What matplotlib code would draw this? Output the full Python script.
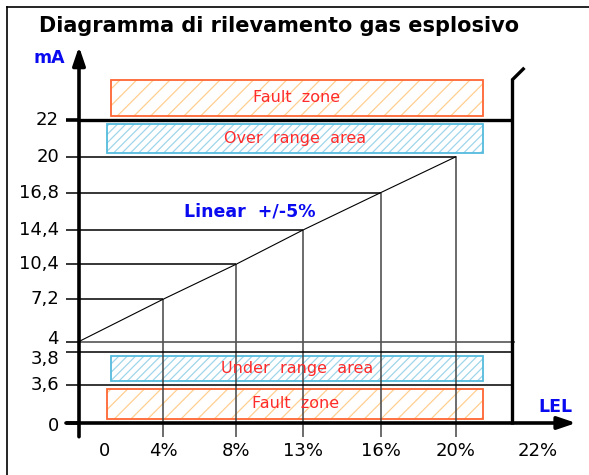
import numpy as np
import matplotlib
matplotlib.use('Agg')
import matplotlib.pyplot as plt
from matplotlib.patches import Rectangle
from matplotlib.lines import Line2D

# dati del diagramma
ma_ticks = [0, 3.6, 3.8, 4, 7.2, 10.4, 14.4, 16.8, 20, 22]
ma_labels = ['0', '3,6', '3,8', '4', '7,2', '10,4', '14,4', '16,8', '20', '22']
lel_ticks = [0, 4, 8, 13, 16, 20, 22]
lel_labels = ['0', '4%', '8%', '13%', '16%', '20%', '22%']
cal_lel = [0, 4, 8, 13, 16, 20]
cal_ma = [4, 7.2, 10.4, 14.4, 16.8, 20]
zone_names = ['Fault  zone', 'Over  range  area', 'Under  range  area', 'Fault  zone']
zone_lo = [22, 20, 3.6, 0]
zone_hi = [24.4, 22, 3.8, 3.6]
zone_lel = [(1.5, 20.95), (1.35, 20.95), (1.5, 20.95), (1.35, 20.95)]

# layout: posizione (pixel) di ogni livello, la scala non e' lineare
ma_pos = [52, 90, 123.5, 133.5, 175.7, 210.7, 245, 282.5, 318.3, 355]
lel_pos = [79, 163, 236, 303, 381, 456, 512.5]
zone_edge = ['#FF6633', '#55BBDD', '#55BBDD', '#FF6633']
zone_hatch = ['#FFCF90', '#9FD6EA', '#9FD6EA', '#FFCF90']
zone_pattern = ['//', '////', '////', '//']
W, H = 589, 475


def piecewise(vals, pos):
    vals = np.asarray(vals, float)
    pos = np.asarray(pos, float)

    def make(a, b):
        s0 = (b[1] - b[0]) / (a[1] - a[0])
        s1 = (b[-1] - b[-2]) / (a[-1] - a[-2])

        def f(v):
            v = np.asarray(v, float)
            out = np.interp(v, a, b)
            out = np.where(v < a[0], b[0] + (v - a[0]) * s0, out)
            out = np.where(v > a[-1], b[-1] + (v - a[-1]) * s1, out)
            return out
        return f
    return make(vals, pos), make(pos, vals)


fx, fx_inv = piecewise(lel_ticks, lel_pos)
fy, fy_inv = piecewise(ma_ticks, ma_pos)

fig = plt.figure(figsize=(W / 100, H / 100), dpi=100)
ax = fig.add_axes([0, 0, 1, 1])
ax.set_xscale('function', functions=(fx, fx_inv))
ax.set_yscale('function', functions=(fy, fy_inv))
ax.set_xlim(float(fx_inv(0)), float(fx_inv(W)))
ax.set_ylim(float(fy_inv(0)), float(fy_inv(H)))

for s in ['top', 'right', 'bottom']:
    ax.spines[s].set_visible(False)
ax.spines['left'].set_position(('data', 0))
ax.spines['left'].set_color('none')
ax.set_xticks([])
ax.set_yticks(ma_ticks)
ax.set_yticklabels([])
ax.tick_params(axis='y', direction='out', length=9.4, width=1.1, colors='k')
for t, v in zip(ax.yaxis.get_major_ticks(), ma_ticks):
    if v in (0, 22):
        t.tick1line.set_markeredgewidth(2.6)
    if v == 4:
        t.tick1line.set_color('#555555')

# etichette asse y (3,8 e 4 sono molto vicini)
for v, lab in zip(ma_ticks, ma_labels):
    dy = {0: -3, 3.8: -7, 4: 3}.get(v, 0)
    ax.annotate(lab, xy=(0, v), xytext=(-20, dy), textcoords='offset pixels',
                ha='right', va='center', fontsize=13)

# linee dei livelli
ax.hlines(cal_ma[1:], 0, cal_lel[1:], color='k', lw=1.1)
ax.vlines(cal_lel[1:], -1.3, cal_ma[1:], color='#444444', lw=1.1)
ax.hlines([3.6, 3.8], 0, 22, color='k', lw=1.1)
ax.hlines(4, 0, 22.1, color='#555555', lw=1.2)
ax.hlines(22, 0, 22, color='k', lw=2.4)
ax.plot(cal_lel, cal_ma, color='k', lw=0.8)

# assi con frecce
ax.annotate('', xy=(0, 26), xytext=(0, -1.3),
            arrowprops=dict(arrowstyle='-|>,head_length=0.5,head_width=0.17',
                            lw=2.6, color='k', mutation_scale=22, shrinkA=0, shrinkB=0))
ax.annotate('', xy=(24.25, 0), xytext=(-0.62, 0),
            arrowprops=dict(arrowstyle='-|>,head_length=0.5,head_width=0.17',
                            lw=2.6, color='k', mutation_scale=22, shrinkA=0, shrinkB=0))
ax.plot([22, 22, 22.38], [0, 24.2, 24.78], color='k', lw=2.4, solid_joinstyle='miter')

# zone
plt.rcParams['hatch.linewidth'] = 0.9
inset = 4
for name, lo, hi, (x0, x1), ec, hc, hp in zip(zone_names, zone_lo, zone_hi, zone_lel,
                                             zone_edge, zone_hatch, zone_pattern):
    y0 = float(fy_inv(fy(lo) + inset))
    y1 = float(fy_inv(fy(hi) - inset))
    ax.add_patch(Rectangle((x0, y0), x1 - x0, y1 - y0, facecolor='white',
                           edgecolor=hc, hatch=hp, lw=0))
    ax.add_patch(Rectangle((x0, y0), x1 - x0, y1 - y0, fill=False,
                           edgecolor=ec, lw=1.3))
    xm = float(fx_inv((fx(x0) + fx(x1)) / 2))
    ym = float(fy_inv((fy(y0) + fy(y1)) / 2))
    ax.text(xm, ym, name, ha='center', va='center', color='#FF2A2A', fontsize=11.5)

# etichette asse x
for v, lab in zip(lel_ticks, lel_labels):
    dx = 26 if v == 0 else (25 if v == 22 else 0)
    ax.annotate(lab, xy=(v, 0), xytext=(dx, -28), textcoords='offset pixels',
                ha='center', va='center', fontsize=13)

fig.text(279 / W, 1 - 26 / H, 'Diagramma di rilevamento gas esplosivo',
         ha='center', va='center', fontsize=15, fontweight='bold')
fig.text(49.5 / W, 1 - 58 / H, 'mA', ha='center', va='center', fontsize=12.5,
         fontweight='bold', color='#0A0AF0')
fig.text(555.5 / W, 1 - 407.5 / H, 'LEL', ha='center', va='center', fontsize=12.5,
         fontweight='bold', color='#0A0AF0')
fig.text(250 / W, 1 - 212 / H, 'Linear  +/-5%', ha='center', va='center',
         fontsize=12.5, fontweight='bold', color='#0A0AF0')

# cornice
fig.add_artist(Line2D([7 / W, 7 / W], [0, 1 - 7 / H], color='k', lw=1.2,
                      transform=fig.transFigure))
fig.add_artist(Line2D([7 / W, 1], [1 - 7 / H, 1 - 7 / H], color='k', lw=1.2,
                      transform=fig.transFigure))

fig.savefig('out.png', dpi=100)
